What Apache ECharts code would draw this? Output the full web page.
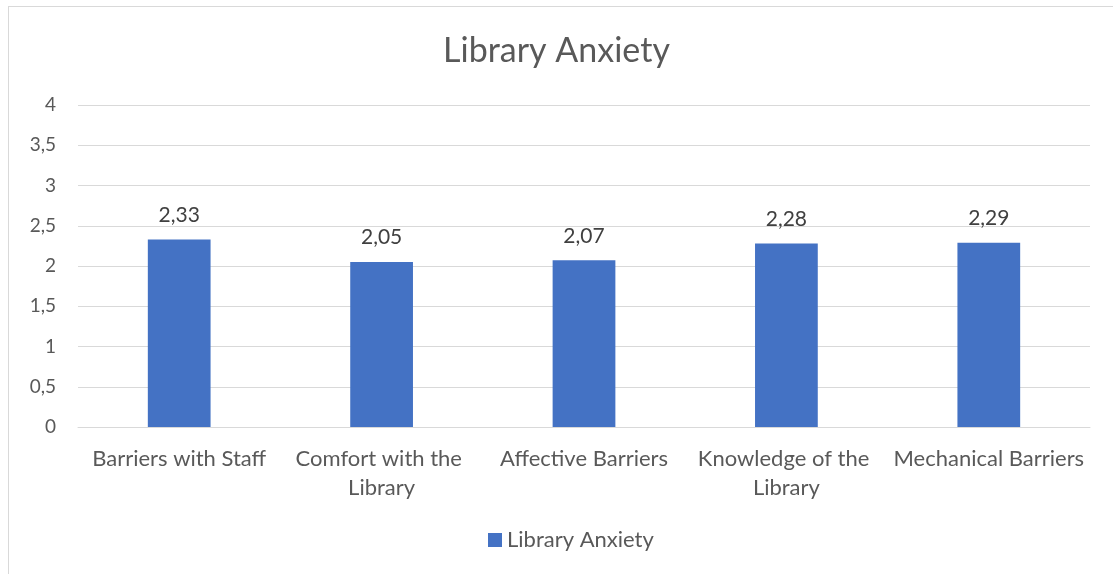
<!DOCTYPE html>
<html><head><meta charset="utf-8">
<script src="https://cdn.jsdelivr.net/npm/echarts@6/dist/echarts.min.js"></script>
<style>html,body{margin:0;padding:0;background:#fff}#c{width:1113px;height:574px}
#frame{position:absolute;left:8px;top:6px;width:1110px;height:580px;border:1px solid #d9d9d9;box-sizing:border-box;pointer-events:none}</style>
</head><body><div id="c"></div><div id="frame"></div>
<script>
const categories = ["Barriers with Staff","Comfort with the Library","Affective Barriers","Knowledge of the Library","Mechanical Barriers"];
const values = [2.33, 2.05, 2.07, 2.28, 2.29];
const seriesName = "Library Anxiety";
const titleText = "Library Anxiety";
const yMin = 0, yMax = 4, yStep = 0.5;

const FONT = "Lato";
const TXT = "#595959";
const fmt = v => String(v).replace('.', ',');
const chart = echarts.init(document.getElementById('c'), null, {renderer:'canvas'});
chart.setOption({
  animation:false,
  backgroundColor:'#fff',
  title:{text:titleText,left:'center',top:29,textStyle:{fontFamily:FONT,fontSize:34,fontWeight:'normal',color:TXT}},
  legend:{bottom:18,left:483,itemWidth:14,itemHeight:14,itemGap:5,icon:'rect',
    textStyle:{fontFamily:FONT,fontSize:22,color:TXT},data:[seriesName]},
  grid:{left:78,right:23,top:105,bottom:147,containLabel:false},
  xAxis:{type:'category',data:categories,
    axisLine:{lineStyle:{color:'#d9d9d9',width:1}},axisTick:{show:false},
    axisLabel:{fontFamily:FONT,fontSize:22,color:TXT,margin:17,width:198,overflow:'break',lineHeight:29,interval:0}},
  yAxis:{type:'value',min:yMin,max:yMax,interval:yStep,
    axisLine:{show:false},axisTick:{show:false},
    splitLine:{lineStyle:{color:'#d9d9d9',width:1}},
    axisLabel:{fontFamily:FONT,fontSize:19,color:TXT,margin:22,formatter:v=>fmt(v)}},
  series:[{name:seriesName,type:'bar',data:values,barWidth:'31%',
    itemStyle:{color:'#4472C4'},
    label:{show:true,position:'top',distance:14,fontFamily:FONT,fontSize:21,color:'#404040',formatter:p=>fmt(p.value)}}]
});
</script></body></html>
